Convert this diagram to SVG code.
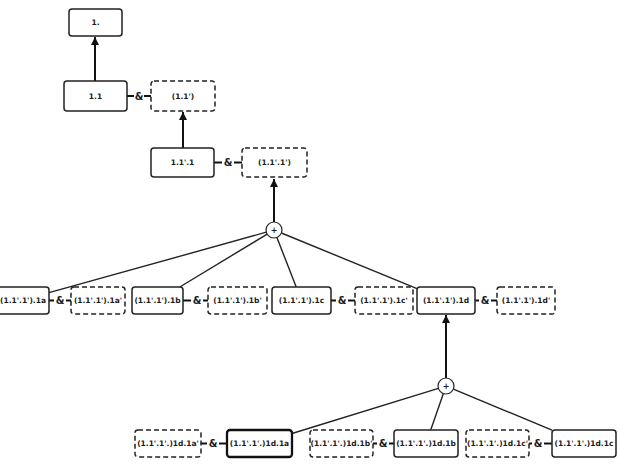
<svg xmlns="http://www.w3.org/2000/svg" width="618" height="466" viewBox="0 0 618 466">
<style>
.box{fill:#fff;stroke:#222;stroke-width:1.5}
.opt{fill:#fff;stroke:#222;stroke-width:1.5;stroke-dasharray:5 3}
.bold{fill:#fff;stroke:#111;stroke-width:2.3}
text{font-family:"DejaVu Sans",sans-serif;font-weight:bold;font-size:7.5px;fill:#1a1a1a;text-anchor:middle}
.amp{font-size:10px}
.c{stroke:#222;stroke-width:1.4;fill:none}
.a{stroke:#111;stroke-width:2;fill:none}
.and{stroke:#111;stroke-width:2}
.plus{fill:#fff;stroke:#222;stroke-width:1.2}
</style>
<defs>
<marker id="ah" markerUnits="userSpaceOnUse" markerWidth="8" markerHeight="10" viewBox="0 0 8 10" refX="8" refY="5" orient="auto">
<path d="M0,1 L8,5 L0,9 Z" fill="#111"/>
</marker>
</defs>
<rect width="618" height="466" fill="#fff"/>
<g id="connectors">
<line class="a" x1="95" y1="81" x2="95" y2="37" marker-end="url(#ah)"/>
<line class="a" x1="183" y1="148" x2="183" y2="112" marker-end="url(#ah)"/>
<line class="a" x1="274" y1="222" x2="274" y2="179" marker-end="url(#ah)"/>
<line class="a" x1="446" y1="378" x2="446" y2="315" marker-end="url(#ah)"/>
<line class="c" x1="266.3" y1="232.2" x2="49" y2="292.7"/>
<line class="c" x1="267.2" y1="234.1" x2="179.8" y2="287"/>
<line class="c" x1="276.9" y1="237.4" x2="296.2" y2="287"/>
<line class="c" x1="281.4" y1="233" x2="417" y2="288.6"/>
<line class="c" x1="438.4" y1="388.4" x2="292" y2="433.5"/>
<line class="c" x1="443.4" y1="393.6" x2="430.7" y2="430"/>
<line class="c" x1="453.4" y1="389.1" x2="552" y2="430.2"/>
<g id="and-links">
<line class="and" x1="127" y1="96" x2="134" y2="96"/><line class="and" x1="144" y1="96" x2="151" y2="96"/>
<line class="and" x1="214" y1="162.5" x2="222" y2="162.5"/><line class="and" x1="234" y1="162.5" x2="242" y2="162.5"/>
<line class="and" x1="49" y1="300.5" x2="54" y2="300.5"/><line class="and" x1="66" y1="300.5" x2="71" y2="300.5"/>
<line class="and" x1="183" y1="300.5" x2="191" y2="300.5"/><line class="and" x1="203" y1="300.5" x2="208" y2="300.5"/>
<line class="and" x1="331" y1="300.5" x2="336" y2="300.5"/><line class="and" x1="348" y1="300.5" x2="355" y2="300.5"/>
<line class="and" x1="475" y1="300.5" x2="479" y2="300.5"/><line class="and" x1="491" y1="300.5" x2="497" y2="300.5"/>
<line class="and" x1="201" y1="443.5" x2="207" y2="443.5"/><line class="and" x1="219" y1="443.5" x2="227" y2="443.5"/>
<line class="and" x1="373" y1="443.5" x2="377" y2="443.5"/><line class="and" x1="389" y1="443.5" x2="394" y2="443.5"/>
<line class="and" x1="529" y1="443.5" x2="532" y2="443.5"/><line class="and" x1="544" y1="443.5" x2="552" y2="443.5"/>
</g>
<g id="amps">
<text class="amp" x="139" y="99.5">&amp;</text>
<text class="amp" x="228" y="166">&amp;</text>
<text class="amp" x="60" y="304">&amp;</text>
<text class="amp" x="197" y="304">&amp;</text>
<text class="amp" x="342" y="304">&amp;</text>
<text class="amp" x="485" y="304">&amp;</text>
<text class="amp" x="213" y="447">&amp;</text>
<text class="amp" x="383" y="447">&amp;</text>
<text class="amp" x="538" y="447">&amp;</text>
</g>
</g>
<g id="n1"><rect class="box" x="69" y="9" width="53" height="27" rx="3"/><text x="95.5" y="25.2">1.</text></g>
<g id="n11"><rect class="box" x="64" y="81" width="63" height="30" rx="3"/><text x="95.5" y="98.7">1.1</text></g>
<g id="n11p"><rect class="opt" x="151" y="81" width="64" height="30" rx="3"/><text x="183" y="98.7">(1.1')</text></g>
<g id="n1111"><rect class="box" x="151" y="148" width="63" height="29" rx="3"/><text x="182.5" y="165.2">1.1'.1</text></g>
<g id="n1111p"><rect class="opt" x="242" y="148" width="65" height="29" rx="3"/><text x="274.5" y="165.2">(1.1'.1')</text></g>
<g id="plus1"><circle class="plus" cx="274" cy="230" r="8"/><text x="274" y="232.8" style="font-size:8px">+</text></g>
<g id="n1a"><rect class="box" x="-3" y="287" width="52" height="27" rx="3"/><text x="23" y="303.2">(1.1'.1').1a</text></g>
<g id="n1ap"><rect class="opt" x="71" y="287" width="54" height="27" rx="3"/><text x="98" y="303.2">(1.1'.1').1a'</text></g>
<g id="n1b"><rect class="box" x="132" y="287" width="51" height="27" rx="3"/><text x="157.5" y="303.2">(1.1'.1').1b</text></g>
<g id="n1bp"><rect class="opt" x="208" y="287" width="59" height="27" rx="3"/><text x="237.5" y="303.2">(1.1'.1').1b'</text></g>
<g id="n1c"><rect class="box" x="272" y="287" width="59" height="27" rx="3"/><text x="301.5" y="303.2">(1.1'.1').1c</text></g>
<g id="n1cp"><rect class="opt" x="355" y="287" width="58" height="27" rx="3"/><text x="384" y="303.2">(1.1'.1').1c'</text></g>
<g id="n1d"><rect class="box" x="417" y="287" width="58" height="27" rx="3"/><text x="446" y="303.2">(1.1'.1').1d</text></g>
<g id="n1dp"><rect class="opt" x="497" y="287" width="58" height="27" rx="3"/><text x="526" y="303.2">(1.1'.1').1d'</text></g>
<g id="plus2"><circle class="plus" cx="446" cy="386" r="8"/><text x="446" y="388.8" style="font-size:8px">+</text></g>
<g id="n1d1ap"><rect class="opt" x="135" y="430" width="66" height="27" rx="3"/><text x="168" y="446.2">(1.1'.1'.)1d.1a'</text></g>
<g id="n1d1a"><rect class="bold" x="227" y="430" width="65" height="27" rx="3"/><text x="259.5" y="446.2">(1.1'.1'.)1d.1a</text></g>
<g id="n1d1bp"><rect class="opt" x="310" y="430" width="63" height="27" rx="3"/><text x="341.5" y="446.2">(1.1'.1'.)1d.1b'</text></g>
<g id="n1d1b"><rect class="box" x="394" y="430" width="64" height="27" rx="3"/><text x="426" y="446.2">(1.1'.1'.)1d.1b</text></g>
<g id="n1d1cp"><rect class="opt" x="466" y="430" width="63" height="27" rx="3"/><text x="497.5" y="446.2">(1.1'.1'.)1d.1c'</text></g>
<g id="n1d1c"><rect class="box" x="552" y="430" width="64" height="27" rx="3"/><text x="584" y="446.2">(1.1'.1'.)1d.1c</text></g>
</svg>
